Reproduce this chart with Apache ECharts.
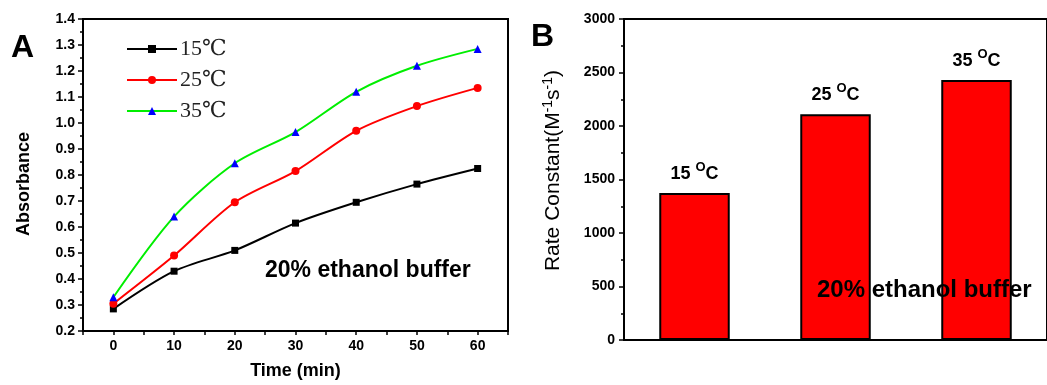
<!DOCTYPE html>
<html>
<head>
<meta charset="utf-8">
<title>Absorbance and rate constant</title>
<script src="https://cdn.jsdelivr.net/npm/echarts@6/dist/echarts.min.js"></script>
<style>
  html, body { margin: 0; padding: 0; background: #fff; }
  #main { width: 1047px; height: 385px; }
</style>
</head>
<body>
<div id="main"></div>
<script type="text/javascript">
// panel A data
var times = [0, 10, 20, 30, 40, 50, 60];
var abs15 = [0.285, 0.43, 0.51, 0.615, 0.695, 0.765, 0.825];
var abs25 = [0.305, 0.49, 0.695, 0.815, 0.97, 1.065, 1.135];
var abs35 = [0.33, 0.64, 0.845, 0.965, 1.12, 1.22, 1.285];
var seriesNames = ['15\u2103', '25\u2103', '35\u2103'];

// panel B data
var temps = ['15', '25', '35'];
var rateConst = [1375, 2110, 2430];

var sans = 'Liberation Sans, Arial, sans-serif';
var myChart = echarts.init(document.getElementById('main'));

function pairs(ys) {
    var out = [];
    for (var i = 0; i < times.length; i++) out.push([times[i], ys[i]]);
    return out;
}

var tickLabel = { color: '#000', fontFamily: sans, fontWeight: 'bold', fontSize: 14 };

myChart.setOption({
    animation: false,
    backgroundColor: '#fff',
    grid: [
        { left: 83, top: 19, width: 425, height: 315, show: true, borderColor: '#000', borderWidth: 2, backgroundColor: 'transparent' },
        { left: 624, top: 19, width: 428, height: 321, show: true, borderColor: '#000', borderWidth: 2, backgroundColor: 'transparent' }
    ],
    legend: {
        data: seriesNames,
        orient: 'vertical',
        left: 121,
        top: 33,
        itemWidth: 50,
        itemHeight: 10,
        itemGap: 9,
        textStyle: { fontFamily: 'Liberation Serif, DejaVu Serif, serif', fontSize: 22, color: '#222', padding: [0, 0, 0, -2] }
    },
    xAxis: [
        {
            type: 'value', gridIndex: 0, min: -5, max: 65, interval: 5,
            name: 'Time (min)', nameLocation: 'middle', nameGap: 31,
            nameTextStyle: { color: '#000', fontFamily: sans, fontWeight: 'bold', fontSize: 18 },
            axisLine: { onZero: false, lineStyle: { color: '#000', width: 2 } },
            axisTick: { show: true, inside: false, length: 4, lineStyle: { color: '#000', width: 1.5 } },
            axisLabel: Object.assign({}, tickLabel, {
                margin: 8,
                formatter: function (v) { return (v % 10 === 0 && v >= 0 && v <= 60) ? String(v) : ''; }
            }),
            splitLine: { show: false }
        },
        {
            type: 'category', gridIndex: 1, data: temps,
            axisLine: { lineStyle: { color: '#000', width: 2 } },
            axisTick: { show: false },
            axisLabel: { show: false }
        }
    ],
    yAxis: [
        {
            type: 'value', gridIndex: 0, min: 0.2, max: 1.4, interval: 0.1,
            name: 'Absorbance', nameLocation: 'middle', nameGap: 50, nameRotate: 90,
            nameTextStyle: { color: '#000', fontFamily: sans, fontWeight: 'bold', fontSize: 18, padding: [0, 18, 0, 0] },
            axisLine: { onZero: false, lineStyle: { color: '#000', width: 2 } },
            axisTick: { show: true, inside: false, length: 5, lineStyle: { color: '#000', width: 1.5 } },
            minorTick: { show: true, splitNumber: 2, length: 3, lineStyle: { color: '#000', width: 1.5 } },
            axisLabel: Object.assign({}, tickLabel, {
                margin: 8,
                formatter: function (v) { return v.toFixed(1); }
            }),
            splitLine: { show: false }
        },
        {
            type: 'value', gridIndex: 1, min: 0, max: 3000, interval: 500,
            name: '{n|Rate Constant(M}{s|-1}{n|s}{s|-1}{n|)}',
            nameLocation: 'middle', nameGap: 60, nameRotate: 90,
            nameTextStyle: {
                padding: [0, 0, 0, 18],
                rich: {
                    n: { color: '#000', fontFamily: sans, fontSize: 21, verticalAlign: 'bottom' },
                    s: { color: '#000', fontFamily: sans, fontSize: 14, verticalAlign: 'top', padding: [0, 0, 9, 0] }
                }
            },
            axisLine: { onZero: false, lineStyle: { color: '#000', width: 2 } },
            axisTick: { show: true, inside: false, length: 5, lineStyle: { color: '#000', width: 1.5 } },
            minorTick: { show: true, splitNumber: 2, length: 3, lineStyle: { color: '#000', width: 1.5 } },
            axisLabel: Object.assign({}, tickLabel, {
                margin: 9, fontSize: 14,
                formatter: function (v) { return String(v); }
            }),
            splitLine: { show: false }
        }
    ],
    series: [
        {
            name: seriesNames[0], type: 'line', xAxisIndex: 0, yAxisIndex: 0,
            data: pairs(abs15), smooth: 0.3,
            symbol: 'rect', symbolSize: 7,
            lineStyle: { color: '#000', width: 2 },
            itemStyle: { color: '#000' }
        },
        {
            name: seriesNames[1], type: 'line', xAxisIndex: 0, yAxisIndex: 0,
            data: pairs(abs25), smooth: 0.3,
            symbol: 'circle', symbolSize: 8,
            lineStyle: { color: '#ff0000', width: 2 },
            itemStyle: { color: '#ff0000' }
        },
        {
            name: seriesNames[2], type: 'line', xAxisIndex: 0, yAxisIndex: 0,
            data: pairs(abs35), smooth: 0.3,
            symbol: 'triangle', symbolSize: 8,
            lineStyle: { color: '#00ee00', width: 2 },
            itemStyle: { color: '#0000ff' }
        },
        {
            type: 'bar', xAxisIndex: 1, yAxisIndex: 1,
            data: rateConst, barWidth: '50%',
            itemStyle: { color: '#ff0000', borderColor: '#000', borderWidth: 2 },
            label: {
                show: true, position: 'top', distance: 10,
                formatter: function (p) { return '{a|' + p.name + ' }{s|O}{a|C}'; },
                rich: {
                    a: { color: '#000', fontFamily: sans, fontWeight: 'bold', fontSize: 18, verticalAlign: 'bottom' },
                    s: { color: '#000', fontFamily: sans, fontWeight: 'bold', fontSize: 13, verticalAlign: 'top', padding: [0, 0, 9, 0] }
                }
            }
        }
    ],
    graphic: [
        { type: 'text', left: 11, top: 32, style: { text: 'A', font: 'bold 32px ' + sans, fill: '#000' } },
        { type: 'text', left: 531, top: 21, style: { text: 'B', font: 'bold 32px ' + sans, fill: '#000' } },
        { type: 'text', left: 265, top: 259, style: { text: '20% ethanol buffer', font: 'bold 23px ' + sans, fill: '#000' } },
        { type: 'text', left: 817, top: 278, z: 100, style: { text: '20% ethanol buffer', font: 'bold 24px ' + sans, fill: '#000' } }
    ]
});
</script>
</body>
</html>
